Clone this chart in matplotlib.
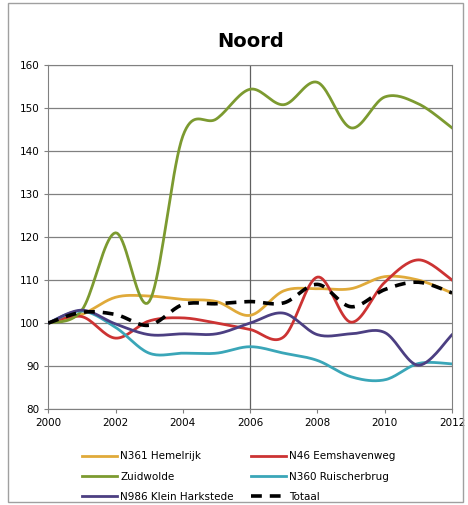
import numpy as np
import matplotlib.pyplot as plt
from matplotlib.patches import Rectangle

# jaartallen en indexwaarden (2000 = 100)
years = list(range(2000, 2013))
hemelrijk = [100, 102, 106, 106.3, 105.5, 105, 101.8, 107.5, 108, 108, 110.8, 110, 107]
eemshavenweg = [100, 101.5, 96.5, 100.5, 101.2, 100, 98.5, 96.8, 110.7, 100.2, 109.5, 114.7, 110]
zuidwolde = [100, 103, 121, 105, 143.5, 147.5, 154.4, 150.8, 156, 145.4, 152.6, 151, 145.4]
ruischerbrug = [100, 102.8, 99, 93, 93, 93, 94.5, 93, 91.3, 87.5, 86.8, 90.6, 90.5]
klein_harkstede = [100, 103, 99.8, 97.3, 97.5, 97.5, 100, 102.3, 97.3, 97.5, 97.8, 90.2, 97.3]
totaal = [100, 102.5, 102, 99.5, 104.3, 104.5, 105, 104.7, 109, 103.8, 107.8, 109.5, 107]

labels = ['N361 Hemelrijk', 'N46 Eemshavenweg', 'Zuidwolde',
          'N360 Ruischerbrug', 'N986 Klein Harkstede', 'Totaal']
colors = ['#e0aa3a', '#cc3333', '#7c9a30', '#3aa6b8', '#4c3f82', 'black']


# vloeiende lijn zoals Excel (Catmull-Rom via Bezier)
def smooth(x, y, n=20):
    x = np.asarray(x, float)
    y = np.asarray(y, float)
    px = np.concatenate([[x[0]], x, [x[-1]]])
    py = np.concatenate([[y[0]], y, [y[-1]]])
    xs, ys = [], []
    t = np.linspace(0, 1, n)
    for i in range(1, len(x)):
        p0 = np.array([px[i], py[i]])
        p1 = np.array([px[i + 1], py[i + 1]])
        c1 = p0 + (p1 - np.array([px[i - 1], py[i - 1]])) / 6
        c2 = p1 - (np.array([px[i + 2], py[i + 2]]) - p0) / 6
        b = (np.outer((1 - t) ** 3, p0) + np.outer(3 * (1 - t) ** 2 * t, c1)
             + np.outer(3 * (1 - t) * t ** 2, c2) + np.outer(t ** 3, p1))
        xs.extend(b[:, 0])
        ys.extend(b[:, 1])
    return xs, ys


fig = plt.figure(figsize=(4.68, 5.05), dpi=100)
ax = fig.add_axes([0.103, 0.19, 0.863, 0.681])

series = [hemelrijk, eemshavenweg, zuidwolde, ruischerbrug, klein_harkstede, totaal]
handles = []
for vals, lab, col in zip(series, labels, colors):
    sx, sy = smooth(years, vals)
    if lab == 'Totaal':
        h, = ax.plot(sx, sy, color=col, lw=2.6, ls=(0, (3, 2.2)), label=lab, zorder=4)
    else:
        h, = ax.plot(sx, sy, color=col, lw=2, label=lab, zorder=3)
    handles.append(h)

ax.set_xlim(2000, 2012)
ax.set_ylim(80, 160)
ax.set_xticks(range(2000, 2013, 2))
ax.set_yticks(range(80, 161, 10))
ax.yaxis.grid(True, color='#808080', lw=0.9)
ax.axvline(2006, color='#606060', lw=0.9)
for s in ax.spines.values():
    s.set_color('#808080')
ax.tick_params(labelsize=7.5, colors='#808080', labelcolor='black', length=3)

fig.text(0.535, 0.917, 'Noord', ha='center', va='center', fontsize=14, fontweight='bold')

# legenda rij voor rij zoals in Excel
order = [0, 2, 4, 1, 3, 5]
leg = fig.legend([handles[i] for i in order], [labels[i] for i in order],
                 loc='upper center', bbox_to_anchor=(0.51, 0.125), ncol=2,
                 frameon=False, fontsize=7.5, handlelength=3.4,
                 columnspacing=1.6, labelspacing=1.0, handletextpad=0.3)

fig.patches.append(Rectangle((0.017, 0.005), 0.973, 0.99, transform=fig.transFigure,
                             fill=False, edgecolor='#a0a0a0', lw=1))

fig.savefig('out.png', dpi=100)
